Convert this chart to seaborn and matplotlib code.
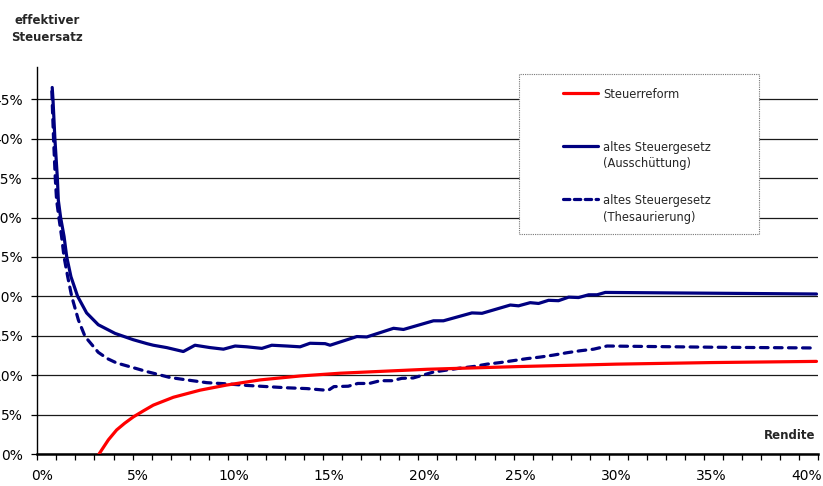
import numpy as np
import matplotlib
matplotlib.use("Agg")
import matplotlib.pyplot as plt
from matplotlib.lines import Line2D
from matplotlib.patches import Rectangle
import seaborn as sns

# Steuerreform (neues Recht): effektiver Steuersatz in % über der Rendite in %
rendite_reform = [2.96, 3.45, 3.88, 4.3, 4.75, 5.3, 5.8, 6.85, 8.25, 9.64, 11.39,
                  13.48, 15.58, 20.13, 25.0, 30.0, 35.0, 40.5]
satz_reform = [0.0, 1.8, 3.05, 3.9, 4.7, 5.5, 6.2, 7.2, 8.1, 8.75, 9.4,
               9.9, 10.25, 10.75, 11.1, 11.4, 11.6, 11.75]

# altes Steuergesetz, Ausschüttung
rendite_aus = [0.51, 0.55, 0.65, 0.78, 0.83, 0.95, 1.13, 1.27, 1.49, 1.84, 2.31, 2.92,
               3.8, 4.75, 5.47, 5.8, 6.5, 7.37, 7.98, 8.77, 9.47, 10.08, 10.69, 11.48,
               12.0, 12.79, 13.48, 14.0, 14.79, 15.05, 16.45, 16.97, 18.37, 18.89,
               20.46, 20.98, 22.47, 23.0, 24.48, 24.91, 25.52, 25.96, 26.48, 27.0,
               27.53, 28.05, 28.58, 29.02, 29.45, 35.0, 40.5]
satz_aus = [46.5, 45.0, 40.0, 35.0, 32.2, 30.0, 27.6, 25.0, 22.5, 20.0, 17.9, 16.4,
            15.3, 14.5, 14.0, 13.8, 13.5, 13.0, 13.8, 13.5, 13.3, 13.7, 13.6, 13.4,
            13.8, 13.7, 13.6, 14.05, 14.0, 13.8, 14.9, 14.85, 15.95, 15.8,
            16.9, 16.9, 17.9, 17.85, 18.9, 18.8, 19.2, 19.1, 19.5, 19.45,
            19.9, 19.85, 20.2, 20.2, 20.5, 20.4, 20.3]

# altes Steuergesetz, Thesaurierung
rendite_the = [0.49, 0.58, 0.67, 0.74, 0.86, 1.0, 1.13, 1.32, 1.53, 1.88, 2.23, 2.92,
               3.4, 3.88, 4.9, 5.47, 5.8, 6.68, 7.55, 8.6, 9.64, 10.69, 11.74, 12.79,
               13.83, 14.79, 15.0, 15.25, 16.0, 16.5, 17.1, 17.67, 18.3, 18.8, 19.4,
               19.9, 20.46, 21.16, 21.86, 22.56, 23.26, 23.95, 24.65, 25.35, 26.05,
               26.74, 27.45, 28.14, 28.84, 29.54, 35.0, 40.5]
satz_the = [46.0, 40.0, 35.0, 32.2, 30.0, 27.6, 25.0, 22.5, 20.0, 17.0, 14.9, 12.9,
            12.1, 11.55, 10.85, 10.45, 10.25, 9.7, 9.4, 9.05, 8.9, 8.7, 8.55, 8.4,
            8.3, 8.1, 8.15, 8.55, 8.6, 8.95, 8.95, 9.3, 9.3, 9.6, 9.65,
            10.0, 10.4, 10.65, 10.9, 11.1, 11.4, 11.6, 11.85, 12.1, 12.3,
            12.55, 12.85, 13.1, 13.3, 13.7, 13.55, 13.45]

y_ticks = [0, 5, 10, 15, 20, 25, 30, 35, 40, 45]
x_ticks = [0, 5, 10, 15, 20, 25, 30, 35, 40]

legend_labels = [["Steuerreform"],
                 ["altes Steuergesetz", "(Ausschüttung)"],
                 ["altes Steuergesetz", "(Thesaurierung)"]]

NAVY = "#000080"
RED = "#FF0000"
LW = 2.3

sns.set_style("white")
plt.rcParams["font.family"] = ["DejaVu Sans"]
plt.rcParams["font.size"] = 10

W, H = 823, 486
fig = plt.figure(figsize=(W / 100, H / 100), dpi=100)
ax_left, ax_right, ax_top, ax_bottom = 37.3, 818.4, 67.0, 454.0
ax = fig.add_axes([ax_left / W, 1 - ax_bottom / H,
                   (ax_right - ax_left) / W, (ax_bottom - ax_top) / H])

sns.lineplot(x=rendite_reform, y=satz_reform, ax=ax, color=RED, linewidth=LW,
             estimator=None, zorder=4)
sns.lineplot(x=rendite_aus, y=satz_aus, ax=ax, color=NAVY, linewidth=LW,
             estimator=None, zorder=3)
sns.lineplot(x=rendite_the, y=satz_the, ax=ax, color=NAVY, linewidth=LW,
             estimator=None, zorder=3, linestyle=(0, (2.4, 2.0)),
             dash_capstyle="round")

xmin, xmax = -0.27, 40.6
ax.set_xlim(xmin, xmax)
ax.set_ylim(0, 49.1)

ax.set_yticks(y_ticks)
ax.set_yticklabels([f"{v}%" for v in y_ticks])
ax.set_xticks(x_ticks)
ax.set_xticklabels([f"{v}%" for v in x_ticks])
ax.set_xticks(np.linspace(xmin, xmax, 42), minor=True)

ax.tick_params(axis="x", which="major", length=0, pad=11, labelsize=10, colors="black")
ax.tick_params(axis="x", which="minor", length=4, width=0.9, color="black",
               direction="out", bottom=True)
ax.tick_params(axis="y", which="major", length=4, width=0.9, color="black",
               direction="out", left=True, pad=6.5, labelsize=10, labelcolor="black")

ax.yaxis.grid(True, color="#1a1a1a", linewidth=0.9)
ax.xaxis.grid(False)
ax.set_axisbelow(True)

for side in ("top", "right"):
    ax.spines[side].set_visible(False)
ax.spines["left"].set_color("black")
ax.spines["left"].set_linewidth(1.0)
ax.spines["bottom"].set_color("black")
ax.spines["bottom"].set_linewidth(1.8)
ax.set_xlabel("")
ax.set_ylabel("")

fig.text(47 / W, 1 - 29 / H, "effektiver\nSteuersatz", ha="center", va="center",
         fontsize=8.5, fontweight="bold", linespacing=1.45)
fig.text(815 / W, 1 - 435 / H, "Rendite", ha="right", va="center",
         fontsize=8.5, fontweight="bold")

# Legend box with dotted frame
box = Rectangle((519 / W, 1 - 234 / H), (759 - 519) / W, (234 - 74) / H,
                transform=fig.transFigure, facecolor="white", edgecolor="#777777",
                linewidth=0.8, linestyle=(0, (1, 1)), zorder=5)
fig.add_artist(box)

entry_y = [93, 146, 199]
styles = [dict(color=RED, linestyle="-"),
          dict(color=NAVY, linestyle="-"),
          dict(color=NAVY, linestyle=(0, (2.0, 1.4)))]
for y0, style, lines in zip(entry_y, styles, legend_labels):
    handle = Line2D([563 / W, 598 / W], [1 - y0 / H, 1 - y0 / H],
                    transform=fig.transFigure, linewidth=LW, zorder=6,
                    dash_capstyle="round", **style)
    fig.add_artist(handle)
    for i, txt in enumerate(lines):
        fig.text(603 / W, 1 - (y0 + 1 + 17 * i) / H, txt, ha="left", va="center",
                 fontsize=8.3, zorder=7)

fig.savefig("out.png", dpi=100)
